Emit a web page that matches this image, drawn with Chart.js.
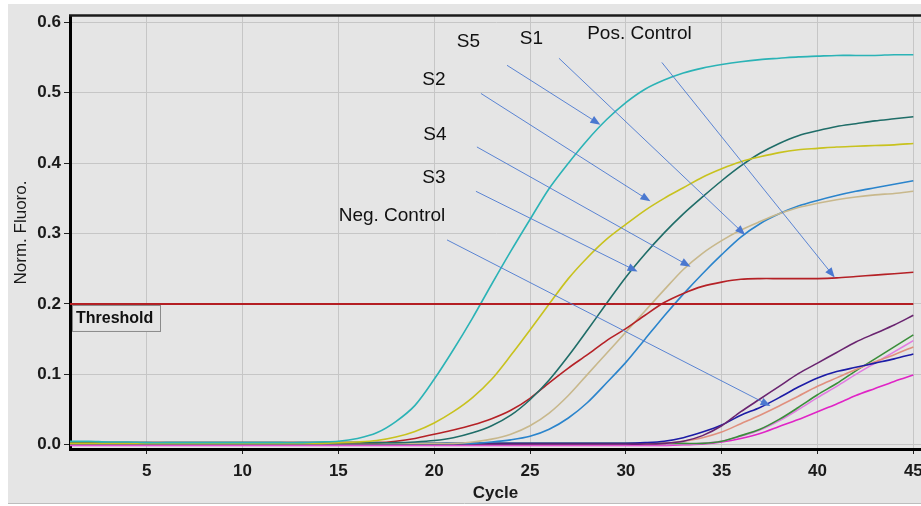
<!DOCTYPE html>
<html>
<head>
<meta charset="utf-8">
<script src="https://cdn.jsdelivr.net/npm/chart.js@4.4.1/dist/chart.umd.min.js"></script>
<style>
  html, body { margin: 0; padding: 0; background: #fff; }
  #wrap { width: 921px; height: 506px; }
</style>
</head>
<body>
<div id="wrap"><canvas id="pcrChart" width="921" height="506"></canvas></div>
<script>
// cycles 1..45
var cycles = [1,2,3,4,5,6,7,8,9,10,11,12,13,14,15,16,17,18,19,20,21,22,23,24,25,26,27,28,29,30,31,32,33,34,35,36,37,38,39,40,41,42,43,44,45];

// curve values
var s5 = [0.005,0.005,0.004,0.004,0.003,0.003,0.003,0.003,0.003,0.003,0.003,0.003,0.003,0.004,0.005,
          0.009,0.017,0.033,0.056,0.093,0.135,0.180,0.228,0.275,0.320,0.364,0.400,0.433,0.462,0.486,
          0.505,0.518,0.528,0.535,0.540,0.544,0.547,0.549,0.551,0.552,0.553,0.553,0.553,0.554,0.554];
var s2 = [0.002,0.002,0.002,0.002,0.002,0.002,0.002,0.002,0.002,0.002,0.002,0.002,0.002,0.002,0.003,
          0.004,0.006,0.011,0.019,0.031,0.047,0.067,0.093,0.127,0.163,0.200,0.236,0.266,0.292,0.313,
          0.333,0.350,0.365,0.380,0.392,0.402,0.409,0.415,0.419,0.421,0.423,0.424,0.425,0.426,0.428];
var s3 = [0.003,0.003,0.003,0.003,0.003,0.003,0.003,0.003,0.003,0.003,0.003,0.003,0.003,0.003,0.003,
          0.003,0.003,0.003,0.004,0.006,0.010,0.017,0.027,0.042,0.064,0.092,0.126,0.163,0.201,0.238,
          0.271,0.301,0.328,0.352,0.375,0.396,0.414,0.428,0.439,0.446,0.452,0.456,0.460,0.463,0.466];
var posControl = [0.003,0.003,0.003,0.003,0.003,0.003,0.003,0.003,0.003,0.003,0.003,0.003,0.003,0.003,0.003,
          0.003,0.003,0.005,0.009,0.015,0.021,0.028,0.037,0.049,0.066,0.088,0.109,0.128,0.148,0.165,
          0.184,0.202,0.215,0.225,0.231,0.235,0.236,0.236,0.236,0.236,0.237,0.239,0.241,0.243,0.245];
var s4 = [0.002,0.002,0.002,0.002,0.002,0.002,0.002,0.002,0.002,0.002,0.002,0.002,0.002,0.002,0.002,
          0.002,0.002,0.002,0.002,0.002,0.002,0.004,0.008,0.015,0.027,0.045,0.070,0.100,0.130,0.160,
          0.190,0.220,0.249,0.272,0.290,0.305,0.317,0.328,0.337,0.343,0.348,0.352,0.355,0.357,0.360];
var s1 = [0.002,0.002,0.002,0.002,0.002,0.002,0.002,0.002,0.002,0.002,0.002,0.002,0.002,0.002,0.002,
          0.002,0.002,0.002,0.002,0.002,0.002,0.002,0.004,0.007,0.012,0.022,0.038,0.060,0.088,0.117,
          0.150,0.183,0.214,0.243,0.270,0.295,0.314,0.328,0.339,0.347,0.354,0.360,0.365,0.370,0.375];

// negative control wells
var neg1 = [0.001,0.001,0.001,0.001,0.001,0.001,0.001,0.001,0.001,0.001,0.001,0.001,0.001,0.001,0.001,
          0.001,0.001,0.001,0.001,0.001,0.001,0.001,0.001,0.001,0.001,0.001,0.001,0.001,0.001,0.001,
          0.001,0.002,0.005,0.013,0.027,0.047,0.065,0.083,0.101,0.116,0.131,0.146,0.158,0.170,0.184];
var neg2 = [0.002,0.002,0.002,0.002,0.002,0.002,0.002,0.002,0.002,0.002,0.002,0.002,0.002,0.002,0.002,
          0.002,0.002,0.002,0.002,0.002,0.002,0.002,0.002,0.002,0.002,0.002,0.002,0.002,0.002,0.002,
          0.003,0.005,0.010,0.018,0.028,0.042,0.053,0.067,0.082,0.095,0.104,0.110,0.116,0.122,0.129];
var neg3 = [0.001,0.001,0.001,0.001,0.001,0.001,0.001,0.001,0.001,0.001,0.001,0.001,0.001,0.001,0.001,
          0.001,0.001,0.001,0.001,0.001,0.001,0.001,0.001,0.001,0.001,0.001,0.001,0.001,0.001,0.001,
          0.001,0.002,0.005,0.010,0.018,0.030,0.042,0.055,0.069,0.083,0.095,0.107,0.118,0.128,0.139];
var neg4 = [0.002,0.002,0.002,0.002,0.002,0.002,0.002,0.002,0.002,0.002,0.002,0.002,0.002,0.002,0.002,
          0.002,0.002,0.002,0.002,0.002,0.002,0.002,0.002,0.002,0.002,0.002,0.002,0.002,0.002,0.002,
          0.002,0.002,0.002,0.002,0.005,0.013,0.022,0.036,0.053,0.071,0.087,0.105,0.122,0.139,0.156];
var neg5 = [0.000,0.000,0.000,0.000,0.000,0.000,0.000,0.000,0.000,0.000,0.000,0.000,0.000,0.000,0.000,
          0.000,0.000,0.000,0.000,0.000,0.000,0.000,0.000,0.000,0.000,0.000,0.000,0.000,0.000,0.000,
          0.000,0.000,0.001,0.002,0.005,0.012,0.021,0.034,0.050,0.067,0.083,0.100,0.116,0.132,0.148];
var neg6 = [-0.001,-0.001,-0.001,-0.001,-0.001,-0.001,-0.001,-0.001,-0.001,-0.001,-0.001,-0.001,-0.001,-0.001,-0.001,
          -0.001,-0.001,-0.001,-0.001,-0.001,-0.001,-0.001,-0.001,-0.001,-0.001,-0.001,-0.001,-0.001,-0.001,-0.001,
          -0.001,-0.001,0.000,0.001,0.004,0.009,0.016,0.026,0.036,0.047,0.058,0.070,0.080,0.090,0.099];

var thresholdValue = 0.2;
var xTicks = [5,10,15,20,25,30,35,40,45];
var yTicks = [0,0.1,0.2,0.3,0.4,0.5,0.6];

// callout labels: text, label position, arrow start, arrow tip (cycle, fluoro)
var calloutText  = ['S5', 'S1', 'Pos. Control', 'S2', 'S4', 'S3', 'Neg. Control'];
var calloutLabel = [[21.79,0.573],[25.07,0.577],[30.71,0.584],[19.99,0.518],[20.04,0.440],[19.99,0.379],[17.80,0.325]];
var calloutFrom  = [[23.80,0.539],[26.51,0.549],[31.88,0.543],[22.44,0.499],[22.23,0.423],[22.18,0.360],[20.67,0.291]];
var calloutTo    = [[28.54,0.457],[36.11,0.301],[40.80,0.241],[31.15,0.348],[33.24,0.255],[30.47,0.248],[37.41,0.057]];

function toPoints(vals) {
    return vals.map(function(v, i) { return {x: cycles[i], y: v}; });
}

function curve(label, vals, color) {
    return {
        label: label,
        data: toPoints(vals),
        borderColor: color,
        backgroundColor: color,
        borderWidth: 1.6,
        pointRadius: 0,
        fill: false,
        tension: 0.3
    };
}

var FONT = "'Liberation Sans', Arial, sans-serif";

var decor = {
    id: 'decor',
    beforeDraw: function(chart) {
        var ctx = chart.ctx;
        ctx.save();
        ctx.fillStyle = '#ffffff';
        ctx.fillRect(0, 0, chart.width, chart.height);
        ctx.fillStyle = '#e5e5e5';
        ctx.fillRect(8, 4, chart.width - 8, 499);
        ctx.strokeStyle = '#bdbdbd';
        ctx.lineWidth = 1;
        ctx.beginPath();
        ctx.moveTo(8, 503.5);
        ctx.lineTo(chart.width, 503.5);
        ctx.stroke();
        ctx.restore();
    },
    afterDraw: function(chart) {
        var ctx = chart.ctx;
        var area = chart.chartArea;
        var xs = chart.scales.x, ys = chart.scales.y;
        ctx.save();

        // top frame line
        ctx.strokeStyle = '#1a1a1a';
        ctx.lineWidth = 2.5;
        ctx.beginPath();
        ctx.moveTo(area.left - 1, area.top - 0.5);
        ctx.lineTo(area.right, area.top - 0.5);
        ctx.stroke();

        // threshold label box
        var ty = ys.getPixelForValue(thresholdValue);
        ctx.fillStyle = '#e5e5e5';
        ctx.fillRect(area.left + 2, ty + 1.5, 88, 26);
        ctx.strokeStyle = '#8a8a8a';
        ctx.lineWidth = 1;
        ctx.strokeRect(area.left + 2.5, ty + 1.5, 88, 26);
        ctx.fillStyle = '#111';
        ctx.font = 'bold 16px ' + FONT;
        ctx.textAlign = 'left';
        ctx.textBaseline = 'middle';
        ctx.fillText('Threshold', area.left + 6, ty + 15);

        // callout arrows
        ctx.strokeStyle = '#4a78d0';
        ctx.fillStyle = '#4a78d0';
        ctx.lineWidth = 0.9;
        for (var i = 0; i < calloutText.length; i++) {
            var x1 = xs.getPixelForValue(calloutFrom[i][0]), y1 = ys.getPixelForValue(calloutFrom[i][1]);
            var x2 = xs.getPixelForValue(calloutTo[i][0]), y2 = ys.getPixelForValue(calloutTo[i][1]);
            var ang = Math.atan2(y2 - y1, x2 - x1);
            ctx.beginPath();
            ctx.moveTo(x1, y1);
            ctx.lineTo(x2, y2);
            ctx.stroke();
            ctx.beginPath();
            ctx.moveTo(x2 + 3 * Math.cos(ang), y2 + 3 * Math.sin(ang));
            ctx.lineTo(x2 - 7 * Math.cos(ang) + 4 * Math.sin(ang), y2 - 7 * Math.sin(ang) - 4 * Math.cos(ang));
            ctx.lineTo(x2 - 7 * Math.cos(ang) - 4 * Math.sin(ang), y2 - 7 * Math.sin(ang) + 4 * Math.cos(ang));
            ctx.closePath();
            ctx.fill();
        }

        // callout texts
        ctx.fillStyle = '#111';
        ctx.font = '19px ' + FONT;
        ctx.textAlign = 'center';
        ctx.textBaseline = 'middle';
        for (var j = 0; j < calloutText.length; j++) {
            ctx.fillText(calloutText[j], xs.getPixelForValue(calloutLabel[j][0]), ys.getPixelForValue(calloutLabel[j][1]));
        }
        ctx.restore();
    }
};

var ctx = document.getElementById('pcrChart').getContext('2d');
var myChart = new Chart(ctx, {
    type: 'line',
    data: {
        datasets: [
            {
                label: 'Threshold',
                data: [{x: cycles[0], y: thresholdValue}, {x: cycles[cycles.length - 1], y: thresholdValue}],
                borderColor: '#b41e23',
                borderWidth: 2,
                pointRadius: 0,
                fill: false
            },
            curve('S5', s5, '#2bb3b6'),
            curve('S2', s2, '#c8c21e'),
            curve('S3', s3, '#1f6d68'),
            curve('Pos. Control', posControl, '#b52126'),
            curve('S4', s4, '#c8b88c'),
            curve('S1', s1, '#2a84cc'),
            curve('Neg 1', neg1, '#6a2470'),
            curve('Neg 2', neg2, '#1c1ca6'),
            curve('Neg 3', neg3, '#e0907e'),
            curve('Neg 4', neg4, '#3a8e3a'),
            curve('Neg 5', neg5, '#e27ce2'),
            curve('Neg 6', neg6, '#e024c6')
        ]
    },
    options: {
        responsive: false,
        devicePixelRatio: 1,
        animation: false,
        layout: { padding: { left: 8, top: 16, right: 0, bottom: 0 } },
        plugins: {
            legend: { display: false },
            tooltip: { enabled: false }
        },
        scales: {
            x: {
                type: 'linear',
                min: 1,
                max: 45.4,
                afterBuildTicks: function(s) { s.ticks = xTicks.map(function(v) { return {value: v}; }); },
                afterFit: function(s) { s.height = 57; s.paddingLeft = 0; s.paddingRight = 0; },
                grid: { color: '#c6c6c6', lineWidth: 1, tickColor: '#222', tickLength: 5 },
                border: { color: '#000', width: 3 },
                ticks: {
                    color: '#1a1a1a',
                    padding: 7,
                    maxRotation: 0,
                    font: { family: FONT, size: 17, weight: 'bold' },
                    callback: function(v) { return v; }
                },
                title: {
                    display: true,
                    text: 'Cycle',
                    color: '#1a1a1a',
                    font: { family: FONT, size: 17, weight: 'bold' },
                    padding: { top: 0, bottom: 2 }
                }
            },
            y: {
                type: 'linear',
                min: -0.006,
                max: 0.609,
                afterBuildTicks: function(s) { s.ticks = yTicks.map(function(v) { return {value: v}; }); },
                afterFit: function(s) { s.width = 62; s.paddingTop = 0; s.paddingBottom = 0; },
                grid: { color: '#c6c6c6', lineWidth: 1, tickColor: '#222', tickLength: 6 },
                border: { color: '#000', width: 3 },
                ticks: {
                    color: '#1a1a1a',
                    padding: 3,
                    font: { family: FONT, size: 17, weight: 'bold' },
                    callback: function(v) { return Number(v).toFixed(1); }
                },
                title: {
                    display: true,
                    text: 'Norm. Fluoro.',
                    color: '#1a1a1a',
                    font: { family: FONT, size: 17 },
                    padding: { top: 3, bottom: 0 }
                }
            }
        }
    },
    plugins: [decor]
});
</script>
</body>
</html>
